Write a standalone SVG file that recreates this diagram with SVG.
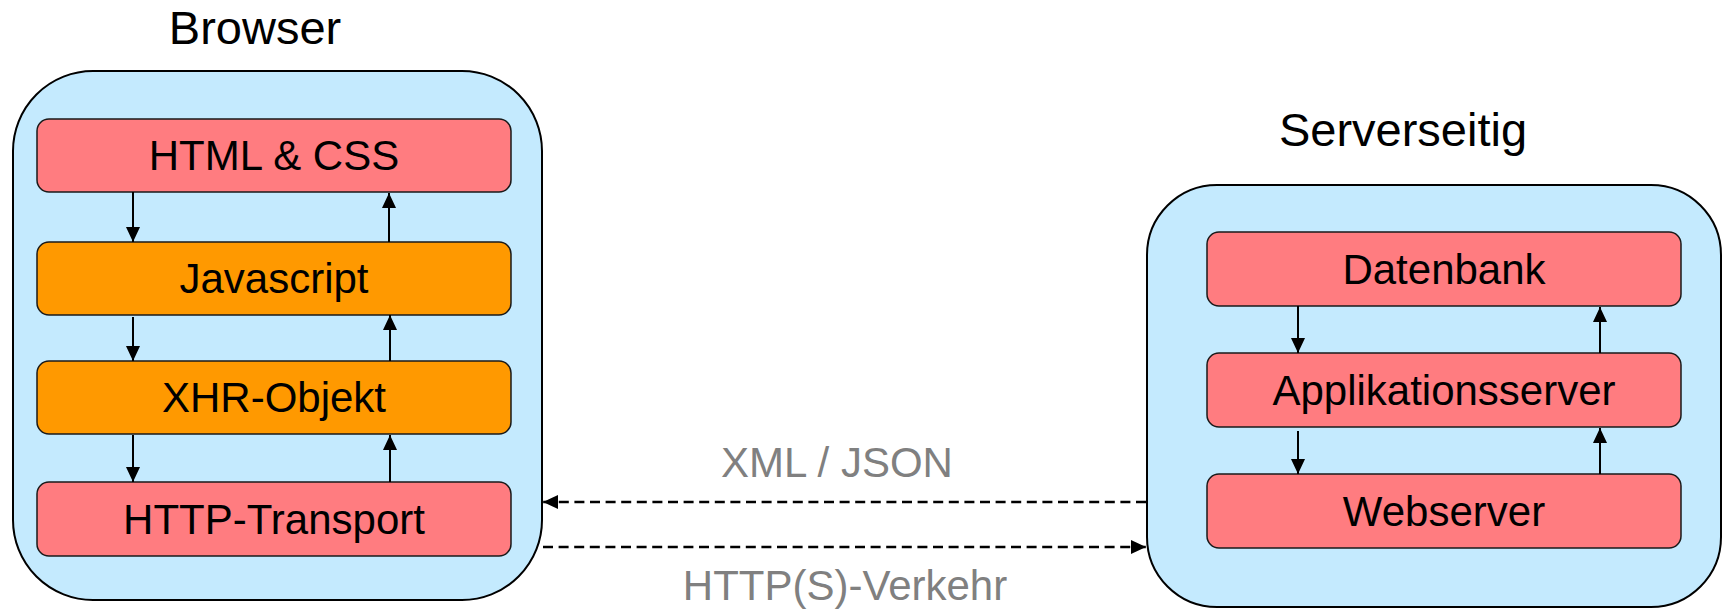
<svg xmlns="http://www.w3.org/2000/svg" width="1727" height="611" viewBox="0 0 1727 611">
<style>
.title{font-family:"Liberation Sans",Arial,sans-serif;font-size:47px;fill:#000;text-anchor:middle}
.lbl{font-family:"Liberation Sans",Arial,sans-serif;font-size:42px;fill:#000;text-anchor:middle}
.glbl{font-family:"Liberation Sans",Arial,sans-serif;font-size:42px;fill:#808080;text-anchor:middle}
.outer{fill:#C4EAFE;stroke:#000;stroke-width:2}
.pink{fill:#FF7C80;stroke:#1a1a1a;stroke-width:1.5}
.orange{fill:#FF9900;stroke:#1a1a1a;stroke-width:1.5}
.arr{stroke:#000;stroke-width:2;fill:none;marker-end:url(#ah)}
.dash{stroke:#000;stroke-width:2.5;fill:none;stroke-dasharray:10 5.6;marker-end:url(#ah)}
</style>
<defs>
<marker id="ah" markerUnits="userSpaceOnUse" markerWidth="16" markerHeight="16" refX="15" refY="7" orient="auto">
<path d="M0,0 L15,7 L0,14 z" fill="#000"/>
</marker>
</defs>
<g id="browser">
<rect class="outer" x="13" y="71" width="529" height="529" rx="80" ry="80"/>
<text class="title" x="255" y="44">Browser</text>
</g>
<g id="html-css">
<rect class="pink" x="37" y="119" width="474" height="73" rx="12" ry="12"/>
<text class="lbl" x="274" y="170">HTML &amp; CSS</text>
</g>
<g id="javascript">
<rect class="orange" x="37" y="242" width="474" height="73" rx="12" ry="12"/>
<text class="lbl" x="274" y="293">Javascript</text>
</g>
<g id="xhr">
<rect class="orange" x="37" y="361" width="474" height="73" rx="12" ry="12"/>
<text class="lbl" x="274" y="412">XHR-Objekt</text>
</g>
<g id="http-transport">
<rect class="pink" x="37" y="482" width="474" height="74" rx="12" ry="12"/>
<text class="lbl" x="274" y="534">HTTP-Transport</text>
</g>
<g id="server">
<rect class="outer" x="1147" y="185" width="574" height="422" rx="70" ry="70"/>
<text class="title" x="1403" y="146">Serverseitig</text>
</g>
<g id="datenbank">
<rect class="pink" x="1207" y="232" width="474" height="74" rx="12" ry="12"/>
<text class="lbl" x="1444" y="284">Datenbank</text>
</g>
<g id="appserver">
<rect class="pink" x="1207" y="353" width="474" height="74" rx="12" ry="12"/>
<text class="lbl" x="1444" y="405">Applikationsserver</text>
</g>
<g id="webserver">
<rect class="pink" x="1207" y="474" width="474" height="74" rx="12" ry="12"/>
<text class="lbl" x="1444" y="526">Webserver</text>
</g>
<g id="connectors">
<line class="arr" x1="133" y1="192" x2="133" y2="242"/>
<line class="arr" x1="389" y1="242" x2="389" y2="193"/>
<line class="arr" x1="133" y1="317" x2="133" y2="361"/>
<line class="arr" x1="390" y1="361" x2="390" y2="315"/>
<line class="arr" x1="133" y1="435" x2="133" y2="482"/>
<line class="arr" x1="390" y1="482" x2="390" y2="435"/>
<line class="arr" x1="1298" y1="306" x2="1298" y2="353"/>
<line class="arr" x1="1600" y1="353" x2="1600" y2="307"/>
<line class="arr" x1="1298" y1="431" x2="1298" y2="474"/>
<line class="arr" x1="1600" y1="474" x2="1600" y2="428"/>
<line class="dash" x1="1146" y1="502" x2="543" y2="502"/>
<line class="dash" x1="543" y1="547" x2="1146" y2="547"/>
<text class="glbl" x="837" y="477">XML / JSON</text>
<text class="glbl" x="845" y="600">HTTP(S)-Verkehr</text>
</g>
</svg>
